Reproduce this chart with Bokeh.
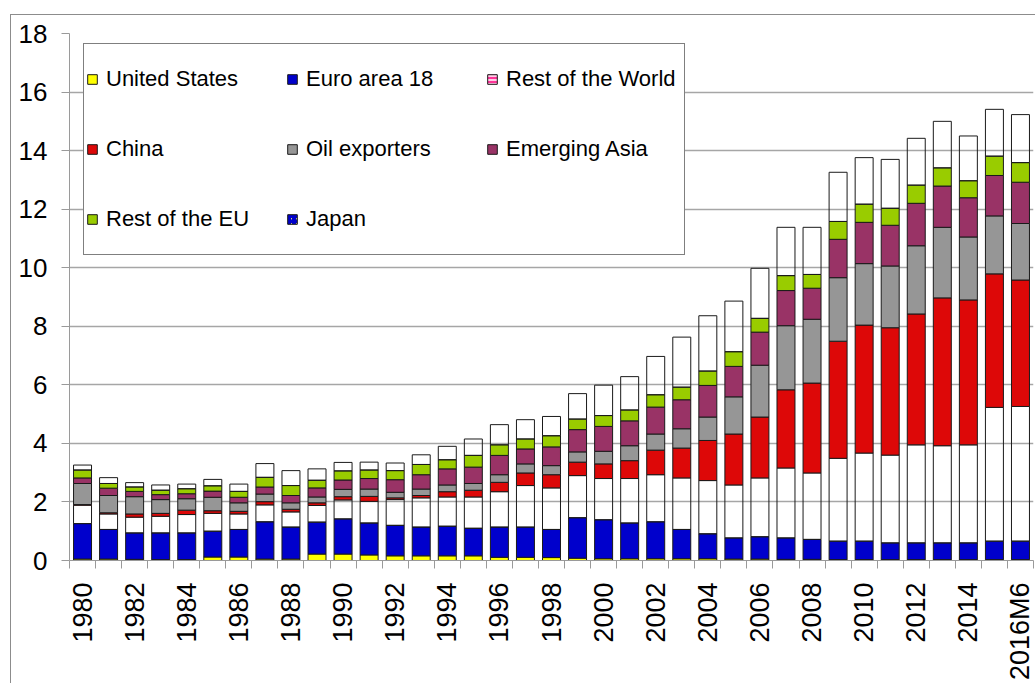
import math
from bokeh.plotting import figure
from bokeh.models import ColumnDataSource, FixedTicker, Legend, LegendItem
from bokeh.embed import file_html
from bokeh.resources import INLINE

periods = [str(y) for y in range(1980, 2016)] + ["2016M6"]

us = [0.05, 0.05, 0.04, 0.03, 0.03, 0.12, 0.12, 0.05, 0.05, 0.22,
      0.22, 0.19, 0.16, 0.16, 0.16, 0.16, 0.11, 0.11, 0.10, 0.08,
      0.06, 0.06, 0.06, 0.06, 0.06, 0.05, 0.05, 0.04, 0.04, 0.03,
      0.03, 0.03, 0.03, 0.03, 0.03, 0.03, 0.03]
euro = [1.21, 1.01, 0.90, 0.91, 0.91, 0.88, 0.94, 1.27, 1.09, 1.09,
        1.20, 1.09, 1.04, 0.98, 1.01, 0.94, 1.03, 1.03, 0.96, 1.38,
        1.33, 1.22, 1.26, 1.00, 0.85, 0.72, 0.76, 0.73, 0.68, 0.63,
        0.63, 0.57, 0.57, 0.57, 0.57, 0.63, 0.63]
japan = [0.63, 0.53, 0.54, 0.57, 0.63, 0.61, 0.53, 0.58, 0.52, 0.57,
         0.65, 0.74, 0.88, 1.00, 1.00, 1.07, 1.21, 1.42, 1.42, 1.44,
         1.41, 1.52, 1.61, 1.76, 1.82, 1.81, 2.01, 2.39, 2.27, 2.83,
         3.01, 3.00, 3.35, 3.32, 3.35, 4.57, 4.60]
china = [0.02, 0.04, 0.11, 0.10, 0.15, 0.09, 0.09, 0.11, 0.09, 0.09,
         0.11, 0.17, 0.06, 0.08, 0.18, 0.23, 0.32, 0.43, 0.45, 0.46,
         0.50, 0.61, 0.84, 1.02, 1.37, 1.74, 2.08, 2.67, 3.07, 4.00,
         4.37, 4.35, 4.47, 5.05, 4.95, 4.56, 4.32]
oil = [0.72, 0.59, 0.59, 0.47, 0.39, 0.46, 0.29, 0.26, 0.22, 0.20,
       0.25, 0.25, 0.19, 0.22, 0.23, 0.23, 0.26, 0.31, 0.31, 0.35,
       0.43, 0.51, 0.55, 0.66, 0.80, 1.27, 1.77, 2.19, 2.18, 2.17,
       2.10, 2.11, 2.33, 2.41, 2.15, 1.98, 1.93]
easia = [0.19, 0.25, 0.18, 0.17, 0.17, 0.21, 0.19, 0.24, 0.25, 0.31,
         0.32, 0.36, 0.43, 0.49, 0.55, 0.56, 0.66, 0.51, 0.64, 0.76,
         0.85, 0.85, 0.92, 0.99, 1.08, 1.04, 1.13, 1.20, 1.06, 1.31,
         1.41, 1.39, 1.45, 1.41, 1.34, 1.38, 1.41]
roeu = [0.27, 0.16, 0.15, 0.15, 0.17, 0.18, 0.20, 0.33, 0.34, 0.26,
        0.31, 0.29, 0.31, 0.35, 0.31, 0.40, 0.36, 0.34, 0.38, 0.36,
        0.37, 0.37, 0.42, 0.43, 0.49, 0.50, 0.47, 0.51, 0.47, 0.61,
        0.62, 0.58, 0.62, 0.62, 0.58, 0.66, 0.67]
row = [0.17, 0.20, 0.15, 0.18, 0.16, 0.22, 0.25, 0.47, 0.51, 0.39,
       0.29, 0.27, 0.26, 0.33, 0.46, 0.56, 0.69, 0.66, 0.66, 0.87,
       1.04, 1.14, 1.31, 1.71, 1.89, 1.73, 1.71, 1.65, 1.61, 1.68,
       1.59, 1.67, 1.60, 1.59, 1.53, 1.60, 1.64]

stack_keys = ["us", "euro", "japan", "china", "oil", "easia", "roeu", "row"]
stack_colors = ["#FFFF00", "#0000CC", "#FFFFFF", "#DD0808", "#969696", "#993366", "#99CC00", "#FFFFFF"]
stack_alpha = [1, 1, 0, 1, 1, 1, 1, 0]

xs = list(range(len(periods)))
src = ColumnDataSource(dict(x=xs, us=us, euro=euro, japan=japan, china=china,
                            oil=oil, easia=easia, roeu=roeu, row=row))

p = figure(width=1035, height=683, x_range=(-0.5, len(periods) - 0.5), y_range=(0, 18),
           output_backend="svg", toolbar_location=None,
           min_border_left=69, min_border_right=2, min_border_top=33, min_border_bottom=122)
p.outline_line_color = None
p.background_fill_color = "white"
p.border_fill_color = None
# outer chart-area border (only its left and top edges fall inside the window)
p.styles = {
    "background-color": "white",
    "background-image": "linear-gradient(#8c8c8c, #8c8c8c), linear-gradient(#8c8c8c, #8c8c8c)",
    "background-repeat": "no-repeat",
    "background-position": "10px 14px, 10px 14px",
    "background-size": "1px 100%, 100% 1px",
}

p.xgrid.visible = False
p.ygrid.grid_line_color = "#a6a6a6"
p.ygrid.grid_line_width = 1.4

rs = p.vbar_stack(stack_keys, x="x", width=0.69, source=src,
                  fill_color=stack_colors, fill_alpha=stack_alpha,
                  line_color="#1a1a1a", line_width=1)

# legend swatches for the patterned series (zero-height bars, legend only)
sw_j = ColumnDataSource(dict(x=xs[:1], top=[0]))
sw_r = ColumnDataSource(dict(x=xs[:1], top=[0]))
leg_japan = p.vbar(x="x", top="top", width=0.69, source=sw_j, fill_color="#FFFF66",
                   hatch_pattern="/", hatch_color="#0000CC", hatch_scale=5, hatch_weight=2.5,
                   line_color="#1a1a1a")
leg_row = p.vbar(x="x", top="top", width=0.69, source=sw_r, fill_color="#FF3399",
                 hatch_pattern="-", hatch_color="#FFFFFF", hatch_scale=4, hatch_weight=1.5,
                 line_color="#1a1a1a")

# axes
yax = p.yaxis[0]
yax.ticker = FixedTicker(ticks=list(range(0, 19, 2)), minor_ticks=[])
yax.major_tick_in = 0
yax.major_tick_out = 8
yax.minor_tick_line_color = None
yax.axis_line_color = "#9a9a9a"
yax.major_tick_line_color = "#9a9a9a"
yax.major_label_text_font = "Liberation Sans"
yax.major_label_text_font_size = "26px"
yax.major_label_text_color = "#000000"
yax.major_label_standoff = 14

xax = p.xaxis[0]
xax.ticker = FixedTicker(ticks=[i for i in xs if i % 2 == 0],
                         minor_ticks=[i - 0.5 for i in range(len(periods) + 1)])
xax.major_label_overrides = {i: periods[i] for i in xs}
xax.major_tick_in = 0
xax.major_tick_out = 0
xax.minor_tick_in = 0
xax.minor_tick_out = 8
xax.axis_line_color = "#9a9a9a"
xax.minor_tick_line_color = "#9a9a9a"
xax.major_label_orientation = math.pi / 2
xax.major_label_text_font = "Liberation Sans"
xax.major_label_text_font_size = "27px"
xax.major_label_text_color = "#000000"
xax.major_label_standoff = 14

items = [
    LegendItem(label="United States", renderers=[rs[0]]),
    LegendItem(label="Euro area 18", renderers=[rs[1]]),
    LegendItem(label="Rest of the World", renderers=[leg_row]),
    LegendItem(label="China", renderers=[rs[3]]),
    LegendItem(label="Oil exporters", renderers=[rs[4]]),
    LegendItem(label="Emerging Asia", renderers=[rs[5]]),
    LegendItem(label="Rest of the EU", renderers=[rs[6]]),
    LegendItem(label="Japan", renderers=[leg_japan]),
]
legend = Legend(items=items, location=(14, 305), orientation="horizontal", ncols=3,
                glyph_width=12, glyph_height=12, label_standoff=8,
                label_width=176, label_height=66, spacing=4, padding=2, margin=0,
                border_line_color="#000000", border_line_width=1,
                background_fill_color="white", background_fill_alpha=1,
                label_text_font="Liberation Sans", label_text_font_size="22px",
                label_text_color="#000000")
p.add_layout(legend)

open("out.html", "w").write(file_html(p, INLINE))
